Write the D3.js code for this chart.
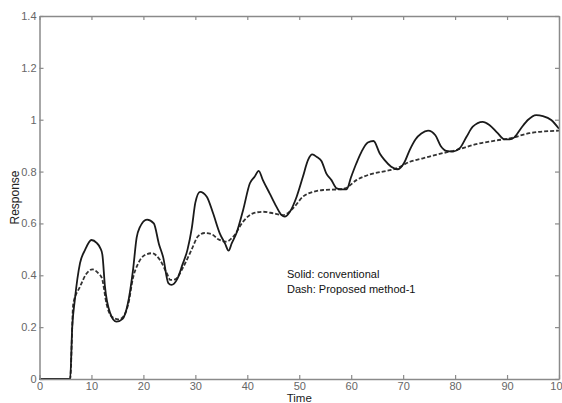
<!DOCTYPE html>
<html>
<head>
<meta charset="utf-8">
<script src="https://cdn.jsdelivr.net/npm/d3@7"></script>
<style>
  body { margin: 0; background: #fff; }
  svg { display: block; font-family: Arial, "Liberation Sans", sans-serif; }
</style>
</head>
<body>
<div id="root"></div>
<script>
// solid line: conventional
const timeSolid = [0, 5.9, 6.3, 6.8, 7.8, 8.75, 10.0, 11.0, 11.7, 12.1, 12.6, 13.6, 14.8, 16.0, 17.0, 18.0, 18.7, 19.3, 20.7, 22.0,
  23.0, 23.8, 24.8, 25.4, 26.5, 27.5, 28.5, 29.3, 30.0, 30.9, 32.2, 33.4, 34.7, 35.7, 36.4, 37.0, 37.9, 39.2, 40.5, 41.4,
  42.2, 43.0, 44.3, 45.6, 46.6, 47.2, 48.2, 49.5, 50.7, 51.7, 52.5, 53.4, 54.3, 55.2, 56.2, 57.2, 58.1, 59.1, 60.0, 61.0,
  62.0, 63.2, 64.3, 65.5, 66.4, 67.7, 69.0, 70.2, 71.3, 72.4, 73.5, 74.8, 76.2, 77.2, 78.3, 79.6, 80.9, 82.2, 83.4, 85.3,
  86.6, 88.2, 89.5, 90.5, 91.4, 92.7, 94.0, 95.6, 96.9, 98.5, 100];
const respSolid = [0, 0, 0.2, 0.305, 0.447, 0.497, 0.536, 0.525, 0.505, 0.48, 0.356, 0.254, 0.221, 0.232, 0.29, 0.42, 0.545, 0.585, 0.615, 0.6,
  0.52, 0.47, 0.37, 0.363, 0.385, 0.44, 0.5, 0.58, 0.68, 0.722, 0.703, 0.64, 0.562, 0.523, 0.495, 0.523, 0.562, 0.652, 0.755, 0.78,
  0.803, 0.767, 0.716, 0.665, 0.632, 0.626, 0.645, 0.703, 0.78, 0.845, 0.866, 0.856, 0.84, 0.793, 0.767, 0.735, 0.731, 0.731, 0.78, 0.832,
  0.877, 0.912, 0.918, 0.87, 0.845, 0.819, 0.809, 0.834, 0.885, 0.925, 0.947, 0.958, 0.94, 0.9, 0.88, 0.877, 0.89, 0.934, 0.973, 0.992,
  0.98, 0.948, 0.924, 0.924, 0.932, 0.967, 0.999, 1.018, 1.014, 0.999, 0.965];

// dashed line: proposed method-1
const timeDash = [0, 5.9, 6.5, 7.8, 9.1, 10.2, 11.3, 12.0, 12.9, 13.9, 15.2, 16.1, 17.1, 18.0, 19.0, 20.3, 21.6, 23.2, 24.5, 25.2,
  26.1, 27.7, 29.3, 30.5, 31.8, 33.0, 34.4, 36.0, 37.3, 39.2, 41.1, 43.0, 45.0, 46.9, 48.8, 50.7, 52.7, 54.6, 57.2, 58.8,
  61.0, 63.6, 66.1, 68.7, 71.3, 73.8, 77.0, 80.2, 84.1, 87.9, 90.5, 94.3, 100];
const respDash = [0, 0, 0.29, 0.356, 0.408, 0.423, 0.408, 0.39, 0.29, 0.24, 0.23, 0.24, 0.29, 0.39, 0.446, 0.478, 0.485, 0.459, 0.408, 0.382,
  0.384, 0.433, 0.5, 0.55, 0.563, 0.56, 0.539, 0.53, 0.549, 0.607, 0.639, 0.645, 0.639, 0.632, 0.658, 0.703, 0.722, 0.729, 0.731, 0.735,
  0.767, 0.789, 0.8, 0.812, 0.838, 0.851, 0.868, 0.883, 0.906, 0.92, 0.928, 0.948, 0.958];

const xTicks = [0, 10, 20, 30, 40, 50, 60, 70, 80, 90, 100];
const yTicks = [0, 0.2, 0.4, 0.6, 0.8, 1, 1.2, 1.4];
const legendLines = ["Solid: conventional", "Dash: Proposed method-1"];

const width = 562, height = 403;
const margin = { top: 16, right: 3, bottom: 24, left: 39.5 };

const svg = d3.select("#root")
  .append("svg")
  .attr("width", width)
  .attr("height", height);

const x = d3.scaleLinear().domain([0, 100]).range([margin.left, width - margin.right]);
const y = d3.scaleLinear().domain([0, 1.4]).range([height - margin.bottom, margin.top]);

const axisColor = "#8a8a8a";

// curves
const solid = timeSolid.map((t, i) => [t, respSolid[i]]);
const dash = timeDash.map((t, i) => [t, respDash[i]]);

const line = d3.line()
  .x(d => x(d[0]))
  .y(d => y(d[1]))
  .curve(d3.curveMonotoneX);

svg.append("path")
  .datum(dash)
  .attr("fill", "none")
  .attr("stroke", "#333")
  .attr("stroke-width", 1.8)
  .attr("stroke-dasharray", "4,2")
  .attr("d", line);

svg.append("path")
  .datum(solid)
  .attr("fill", "none")
  .attr("stroke", "#1a1a1a")
  .attr("stroke-width", 1.8)
  .attr("d", line);

// axes (box with inward ticks)
const styleAxis = g => {
  g.select(".domain").attr("stroke", axisColor).attr("stroke-width", 1.5);
  g.selectAll(".tick line").attr("stroke", axisColor).attr("stroke-width", 1.2);
  g.selectAll(".tick text").attr("fill", "#666").attr("font-size", 11);
};

svg.append("g")
  .attr("transform", `translate(0,${height - margin.bottom})`)
  .call(d3.axisBottom(x).tickValues(xTicks).tickSizeInner(-4).tickSizeOuter(0).tickPadding(3).tickFormat(d3.format("d")))
  .call(styleAxis);

svg.append("g")
  .attr("transform", `translate(0,${margin.top})`)
  .call(d3.axisTop(x).tickValues(xTicks).tickSizeInner(-4).tickSizeOuter(0).tickFormat(""))
  .call(styleAxis);

svg.append("g")
  .attr("transform", `translate(${margin.left},0)`)
  .call(d3.axisLeft(y).tickValues(yTicks).tickSizeInner(-4).tickSizeOuter(0).tickPadding(3).tickFormat(d => d3.format("~g")(d)))
  .call(styleAxis);

svg.append("g")
  .attr("transform", `translate(${width - margin.right},0)`)
  .call(d3.axisRight(y).tickValues(yTicks).tickSizeInner(-4).tickSizeOuter(0).tickFormat(""))
  .call(styleAxis);

// axis labels
svg.append("text")
  .attr("x", (x(0) + x(100)) / 2)
  .attr("y", 402)
  .attr("text-anchor", "middle")
  .attr("font-size", 11.5)
  .attr("fill", "#222")
  .text("Time");

svg.append("text")
  .attr("transform", `translate(19,${(y(0) + y(1.4)) / 2}) rotate(-90)`)
  .attr("text-anchor", "middle")
  .attr("font-size", 12)
  .attr("fill", "#222")
  .text("Response");

// legend text
svg.append("g")
  .selectAll("text")
  .data(legendLines)
  .join("text")
  .attr("x", 287)
  .attr("y", (d, i) => 278 + i * 15)
  .attr("font-size", 11)
  .attr("fill", "#111")
  .text(d => d);
</script>
</body>
</html>
